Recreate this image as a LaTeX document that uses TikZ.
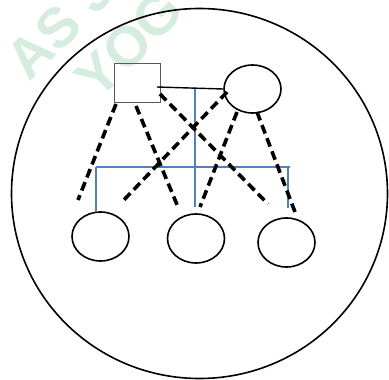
\documentclass[tikz,border=0pt]{standalone}
\usepackage{fontspec}
\usetikzlibrary{shapes.geometric}
\newfontfamily\wmfont{Liberation Sans}
\definecolor{wmgreen}{RGB}{213,236,223}
\definecolor{lineblue}{RGB}{79,129,189}
\begin{document}
\begin{tikzpicture}[x=1pt,y=-1pt,
  oval/.style={draw=black,line width=1.6pt,ellipse,inner sep=0pt,minimum width=57pt,minimum height=49pt},
  boxnode/.style={draw=black!65,line width=0.9pt,minimum width=46pt,minimum height=39pt,inner sep=0pt},
  bluel/.style={draw=lineblue,line width=1.6pt},
  kin/.style={draw=black,line width=3.6pt,dash pattern=on 9pt off 5pt},
  wm/.style={text=wmgreen,font=\wmfont\bfseries\fontsize{56}{56}\selectfont,rotate=45,inner sep=0pt}]
\useasboundingbox (0,0) rectangle (389,380);
\begin{scope}
\clip (0,0) rectangle (389,380);
\node[wm] (wm1) at (60,25) {AS J};
\node[wm] (wm2) at (129,44) {YOG};
\end{scope}
\node[draw=black,line width=1.6pt,ellipse,minimum width=376pt,minimum height=370pt,inner sep=0pt] (outer) at (199.5,193.5) {};
\node[boxnode] (sq) at (137,82.5) {};
\node[oval,minimum width=57pt,minimum height=48pt] (te) at (252.5,89) {};
\node[oval] (b1) at (100.5,236.5) {};
\node[oval] (b2) at (196,238.5) {};
\node[oval] (b3) at (286.5,242.5) {};
% solid line
\coordinate (s0) at (157,87);
\draw[line width=1.4pt] (s0) -- (te.west);
% blue lines
\coordinate (v1) at (195,89);
\coordinate (v2) at (195,207);
\coordinate (hl) at (96,167);
\coordinate (hr) at (290,167);
\coordinate (ll) at (96,212);
\coordinate (rt) at (288,167);
\coordinate (rb) at (288,208);
\draw[bluel] (v1) -- (v2);
\draw[bluel] (hl) -- (hr);
\draw[bluel] (hl) -- (ll);
\draw[bluel] (rt) -- (rb);
% dashed lines
\coordinate (d1a) at (116,104); \coordinate (d1b) at (78,200);
\coordinate (d2a) at (136,106); \coordinate (d2b) at (178,207);
\coordinate (d3a) at (160,94);  \coordinate (d3b) at (268,204);
\coordinate (d4a) at (227,92);  \coordinate (d4b) at (121,203);
\coordinate (d5a) at (237,112); \coordinate (d5b) at (200,207);
\coordinate (d6a) at (257,112); \coordinate (d6b) at (295,212);
\draw[kin] (d1a) -- (d1b);
\draw[kin] (d2a) -- (d2b);
\draw[kin] (d3a) -- (d3b);
\draw[kin] (d4a) -- (d4b);
\draw[kin] (d5a) -- (d5b);
\draw[kin] (d6a) -- (d6b);
\end{tikzpicture}
\end{document}
